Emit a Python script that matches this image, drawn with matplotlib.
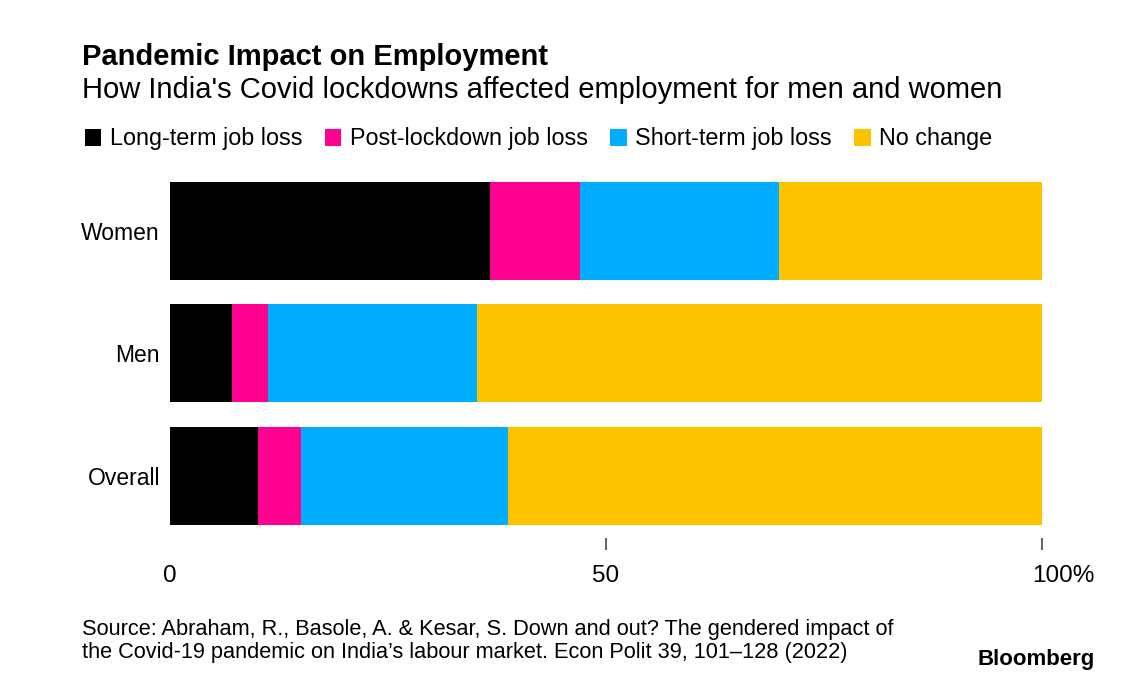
import matplotlib
matplotlib.use("Agg")
import matplotlib.pyplot as plt
import numpy as np

plt.rcParams['font.family'] = ['Liberation Sans', 'DejaVu Sans']

# data (share of respondents, %)
groups = ['Women', 'Men', 'Overall']
series = ['Long-term job loss', 'Post-lockdown job loss', 'Short-term job loss', 'No change']
long_term = [36.7, 7.1, 10.1]
post_lockdown = [10.3, 4.1, 4.9]
short_term = [22.8, 24.0, 23.8]
no_change = [30.2, 64.8, 61.2]
colors = ['#000000', '#FF0090', '#00ADFF', '#FDC300']
xticks = [0, 50, 100]

fig = plt.figure(figsize=(11.26, 6.96), dpi=100)
ax = fig.add_axes([0.151, 0.2457, 0.7744, 0.4932])

ypos = np.arange(len(groups))[::-1]  # Women on top
left = np.zeros(len(groups))
handles = []
for name, vals, c in zip(series, [long_term, post_lockdown, short_term, no_change], colors):
    b = ax.barh(ypos, vals, left=left, height=0.8, color=c, label=name)
    handles.append(b)
    left += np.array(vals)

ax.set_xlim(0, 100)
ax.set_ylim(-0.4, 2.4)
for s in ax.spines.values():
    s.set_visible(False)

ax.set_yticks(ypos)
ax.set_yticklabels(groups, fontsize=16.5)
ax.tick_params(axis='y', length=0, pad=7.2)

# x axis sits a little below the bars, no tick mark at 0
ax.spines['bottom'].set_position(('outward', 9.4))
ax.set_xticks(xticks)
ax.set_xticklabels([str(t) for t in xticks[:-1]] + [''], fontsize=17.5)
ax.tick_params(axis='x', length=8.6, width=1.3, color='#555555', pad=10.5)
ax.xaxis.get_major_ticks()[0].tick1line.set_visible(False)
ax.annotate(f'{xticks[-1]}%', xy=(xticks[-1], 0), xycoords=('data', 'axes fraction'),
            xytext=(15, -41), textcoords='offset points',
            fontsize=17.5, ha='center', va='baseline')

fig.text(0.0728, 1 - 65 / 696, 'Pandemic Impact on Employment', fontsize=21,
         fontweight='bold', va='baseline')
fig.text(0.0728, 1 - 98.5 / 696,
         "How India's Covid lockdowns affected employment for men and women",
         fontsize=21, va='baseline')

fig.legend(handles=handles, loc='center left', bbox_to_anchor=(0.0755, 1 - 139 / 696),
           ncol=4, frameon=False, fontsize=16.8, handlelength=0.7,
           handleheight=0.7, handletextpad=0.38, columnspacing=0.95,
           borderaxespad=0, borderpad=0)

fig.text(0.0728, 1 - 635 / 696,
         "Source: Abraham, R., Basole, A. & Kesar, S. Down and out? The gendered impact of",
         fontsize=15.7, va='baseline')
fig.text(0.0728, 1 - 658.3 / 696,
         "the Covid-19 pandemic on India\u2019s labour market. Econ Polit 39, 101\u2013128 (2022)",
         fontsize=15.7, va='baseline')
fig.text(1095 / 1126, 1 - 665 / 696, 'Bloomberg', fontsize=16, fontweight='bold',
         ha='right', va='baseline')

fig.savefig('out.png', dpi=100, facecolor='white')
